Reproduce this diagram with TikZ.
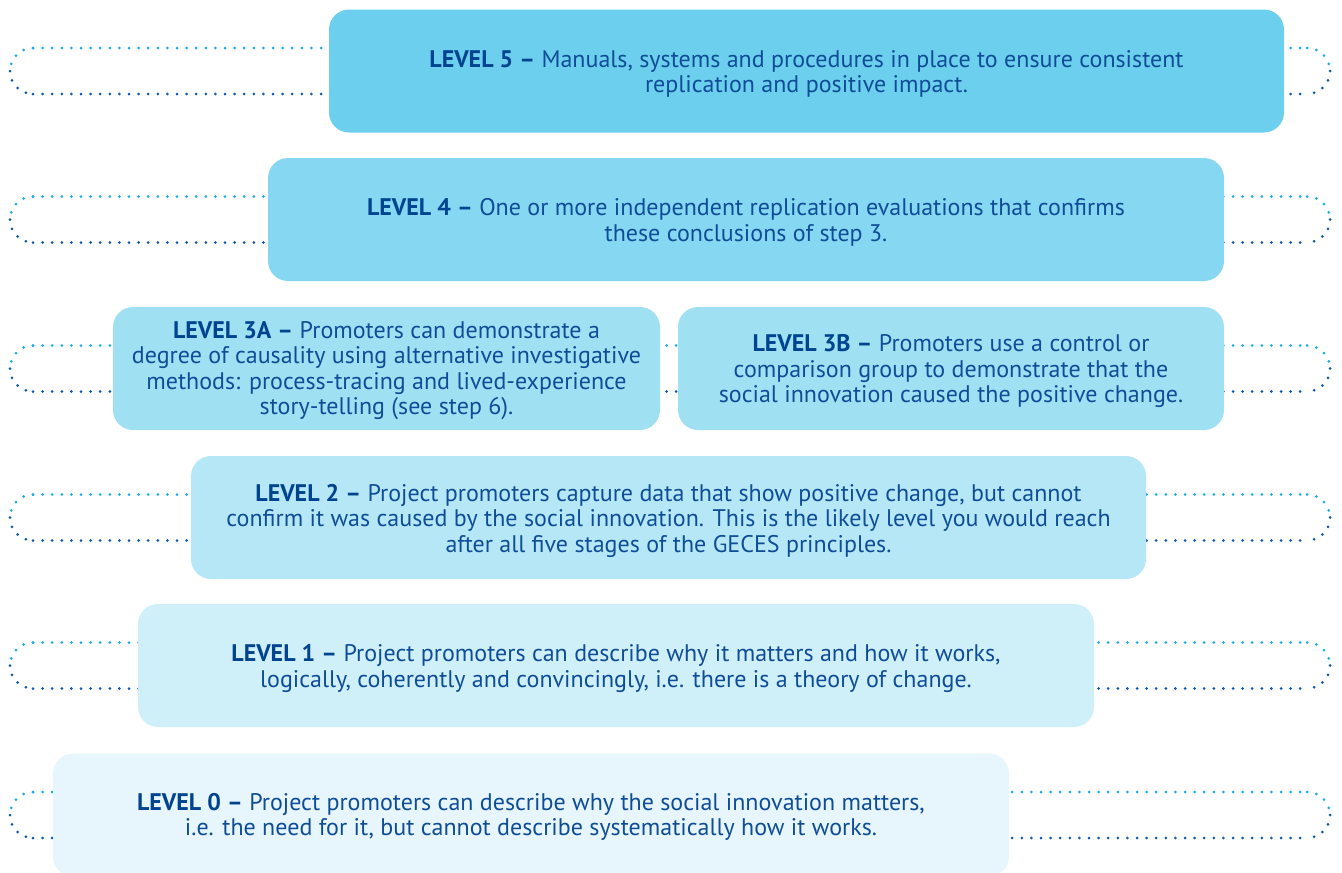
\documentclass[tikz,border=0pt]{standalone}
\usepackage{fontspec}
\setmainfont{PT Sans}
\definecolor{c5}{HTML}{6DCFEE}
\definecolor{c4}{HTML}{86D7F1}
\definecolor{c3}{HTML}{A0E0F3}
\definecolor{c2}{HTML}{B5E7F6}
\definecolor{c1}{HTML}{CFEFF9}
\definecolor{c0}{HTML}{E6F6FC}
\definecolor{txt}{HTML}{0F4D97}
\definecolor{bld}{HTML}{00448F}
\definecolor{dotA}{HTML}{1AADE0}
\definecolor{dotB}{HTML}{0E5AA8}
\tikzset{
  x=1pt, y=-1pt,
  lvlbox/.style={rounded corners=20pt, minimum height=123pt, inner sep=0pt},
  lvltext/.style={align=center, text=txt, font=\fontsize{24}{25.5}\selectfont,
    inner sep=0pt, yshift=-3pt},
  dotline/.style={line width=3pt, line cap=round, dash pattern=on 0pt off 9.6pt},
}
\newcommand{\lv}[1]{\textbf{\color{bld}#1 –}}
\newcommand{\loopat}[1]{%
  \draw[dotline, dotA] (33,#1-23) -- (1307,#1-23);
  \draw[dotline, dotB] (33,#1+23) -- (1307,#1+23);
  \draw[dotline, dotA] (33,#1-23) arc[start angle=-90, end angle=-180, radius=23];
  \draw[dotline, dotB] (10,#1) arc[start angle=180, end angle=90, radius=23];
  \draw[dotline, dotA] (1307,#1-23) arc[start angle=-90, end angle=0, radius=23];
  \draw[dotline, dotB] (1330,#1) arc[start angle=0, end angle=90, radius=23];
}
\begin{document}
\begin{tikzpicture}
\useasboundingbox (0,0) rectangle (1342,873);
\loopat{71}
\loopat{219.5}
\loopat{368.5}
\loopat{517.5}
\loopat{665.5}
\loopat{815}
\node[lvlbox, fill=c5, minimum width=955pt] (l5) at (806.5,71) {};
\node[lvltext] (l5t) at (l5.center)
  {\lv{LEVEL 5} Manuals, systems and procedures in place to ensure consistent\\replication and positive impact.};
\node[lvlbox, fill=c4, minimum width=956pt] (l4) at (746,219.5) {};
\node[lvltext] (l4t) at (l4.center)
  {\lv{LEVEL 4} One or more independent replication evaluations that confirms\\these conclusions of step 3.};
\node[lvlbox, fill=c3, minimum width=547pt] (l3a) at (386.5,368.5) {};
\node[lvltext, yshift=1pt] (l3at) at (l3a.center)
  {\lv{LEVEL 3A} Promoters can demonstrate a\\degree of causality using alternative investigative\\methods: process-tracing and lived-experience\\story-telling (see step 6).};
\node[lvlbox, fill=c3, minimum width=546pt] (l3b) at (951,368.5) {};
\node[lvltext] (l3bt) at (l3b.center)
  {\lv{LEVEL 3B} Promoters use a control or\\comparison group to demonstrate that the\\social innovation caused the positive change.};
\node[lvlbox, fill=c2, minimum width=955pt] (l2) at (668.5,517.5) {};
\node[lvltext] (l2t) at (l2.center)
  {\lv{LEVEL 2} Project promoters capture data that show positive change, but cannot\\confirm it was caused by the social innovation. This is the likely level you would reach\\after all five stages of the GECES principles.};
\node[lvlbox, fill=c1, minimum width=956pt] (l1) at (616,665.5) {};
\node[lvltext] (l1t) at (l1.center)
  {\lv{LEVEL 1} Project promoters can describe why it matters and how it works,\\logically, coherently and convincingly, i.e. there is a theory of change.};
\node[lvlbox, fill=c0, minimum width=956pt] (l0) at (531,815) {};
\node[lvltext, yshift=1pt] (l0t) at (l0.center)
  {\lv{LEVEL 0} Project promoters can describe why the social innovation matters,\\i.e. the need for it, but cannot describe systematically how it works.};
\end{tikzpicture}
\end{document}
